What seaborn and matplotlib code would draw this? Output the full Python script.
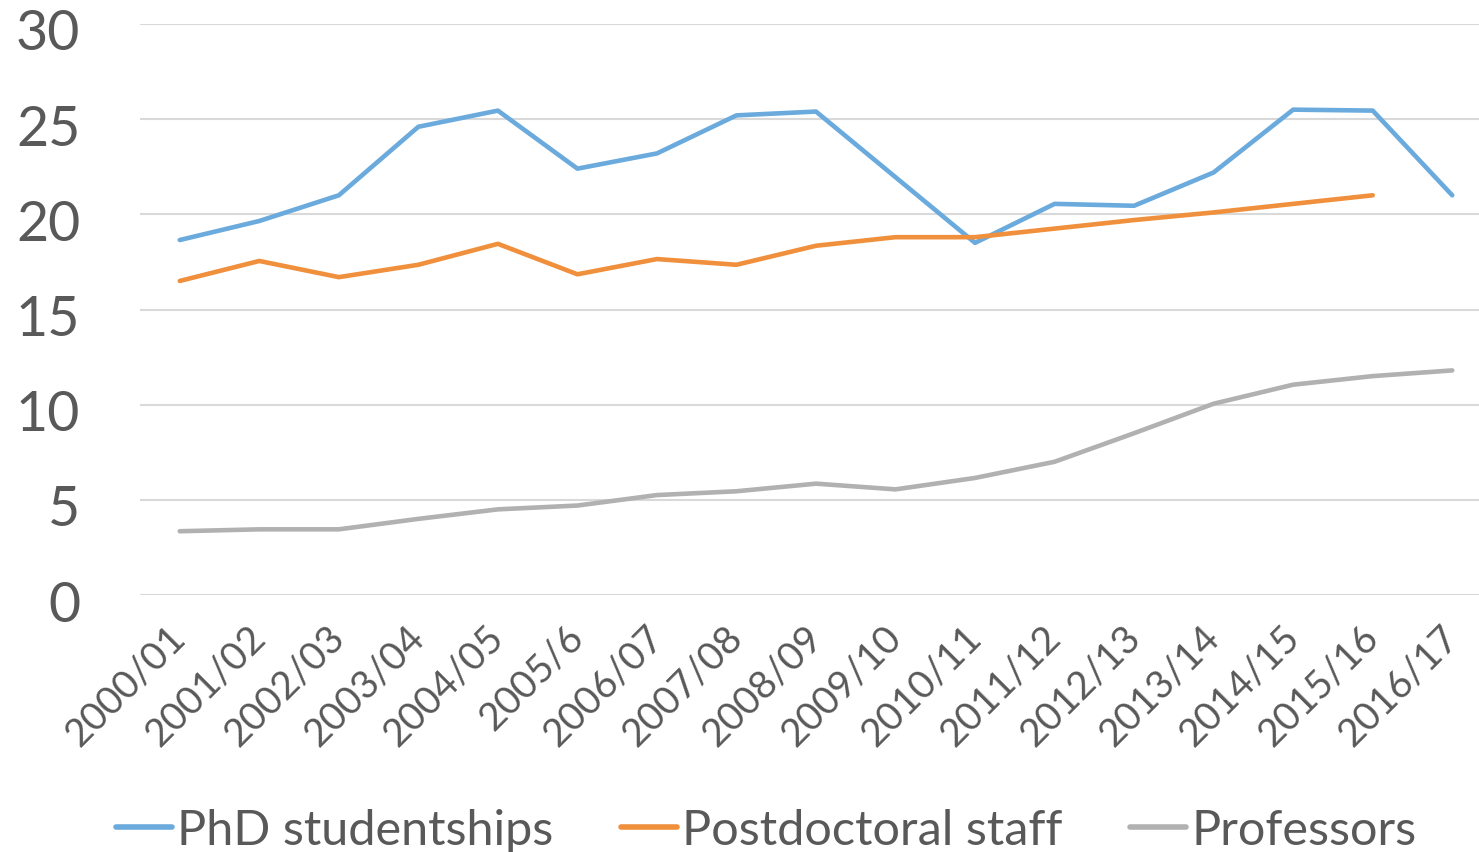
import numpy as np
import pandas as pd
import matplotlib
matplotlib.use("Agg")
import matplotlib.pyplot as plt
import matplotlib.transforms as mtransforms
import seaborn as sns

years = ["2000/01", "2001/02", "2002/03", "2003/04", "2004/05", "2005/6",
         "2006/07", "2007/08", "2008/09", "2009/10", "2010/11", "2011/12",
         "2012/13", "2013/14", "2014/15", "2015/16", "2016/17"]
phd = [18.65, 19.65, 21.0, 24.6, 25.45, 22.4, 23.2, 25.2, 25.4, np.nan,
       18.5, 20.55, 20.45, 22.2, 25.5, 25.45, 21.0]
postdoc = [16.5, 17.55, 16.7, 17.35, 18.45, 16.85, 17.65, 17.35, 18.35, 18.8,
           18.8, 19.25, 19.7, 20.1, 20.55, 21.0, np.nan]
professors = [3.35, 3.45, 3.45, 4.0, 4.5, 4.7, 5.25, 5.45, 5.85, 5.55,
              6.15, 7.0, 8.5, 10.05, 11.05, 11.5, 11.8]

series = {"PhD studentships": phd,
          "Postdoctoral staff": postdoc,
          "Professors": professors}
colors = {"PhD studentships": "#6AAADC",
          "Postdoctoral staff": "#F08F3C",
          "Professors": "#B1B1B1"}

df = pd.DataFrame(series)
df["pos"] = np.arange(len(years))
long = df.melt(id_vars="pos", var_name="group", value_name="value").dropna()

sns.set_style("white")
plt.rcParams["font.family"] = ["Lato", "DejaVu Sans"]
text_col = "#595959"

fig = plt.figure(figsize=(14.79, 8.53), dpi=100)
ax = fig.add_axes([140 / 1479, 1 - 596 / 853, 1352 / 1479, (596 - 25) / 853])

sns.lineplot(data=long, x="pos", y="value", hue="group", palette=colors,
             linewidth=3.3, ax=ax, legend=False, sort=True)

ax.set_xlim(-0.5, len(years) - 0.5)
ax.set_ylim(0, 30)
ax.set_yticks(range(0, 31, 5))
ax.set_xticks(range(len(years)))
ax.set_xticklabels(years, rotation=45, ha="right", va="center",
                   rotation_mode="anchor")
ax.tick_params(axis="x", labelsize=28, colors=text_col, length=0, pad=26)
ax.tick_params(axis="y", labelsize=40, colors=text_col, length=0, pad=43)
shift = mtransforms.ScaledTranslation(0, -5 / 100, fig.dpi_scale_trans)
for lab in ax.get_yticklabels():
    lab.set_transform(lab.get_transform() + shift)
ax.grid(axis="y", color="#D9D9D9", linewidth=1.5)
ax.set_axisbelow(True)
for s in ax.spines.values():
    s.set_visible(False)
ax.set_xlabel("")
ax.set_ylabel("")

handles = [plt.Line2D([], [], color=colors[k], linewidth=4) for k in series]
fig.legend(handles, list(series.keys()), loc="center",
           bbox_to_anchor=(0.518, 0.026), ncol=3, frameon=False,
           fontsize=35, labelcolor=text_col, handlelength=1.15,
           handletextpad=0.1, columnspacing=1.4)

fig.savefig("out.png", dpi=100)
